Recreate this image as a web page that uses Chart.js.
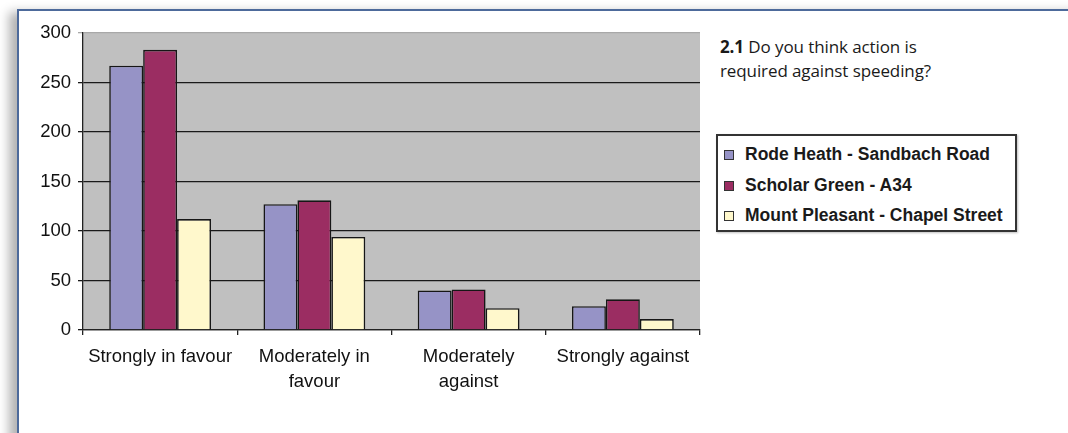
<!DOCTYPE html>
<html>
<head>
<meta charset="utf-8">
<script src="https://cdn.jsdelivr.net/npm/chart.js@4.4.1/dist/chart.umd.min.js"></script>
<style>
  html, body { margin: 0; padding: 0; background: #fff; }
  body { width: 1068px; height: 433px; position: relative; overflow: hidden; }
  #frame {
    position: absolute; left: 17px; top: 9px; width: 1100px; height: 500px;
    border-top: 2px solid #4d6a9b; border-left: 2px solid #4d6a9b;
    box-shadow: -8px 3px 10px rgba(0,0,0,0.3);
    background: #fff;
  }
  #wrap { position: absolute; left: 0; top: 0; width: 710px; height: 400px; }
  #title {
    position: absolute; left: 720px; top: 35px;
    font-family: "Open Sans", sans-serif; font-size: 17px; line-height: 24px; color: #1a1a1a;
    letter-spacing: -0.1px;
  }
  #legend {
    position: absolute; left: 716px; top: 134px; width: 297px; height: 91px;
    border: 2px solid #333; box-shadow: 1px 1px 2px rgba(0,0,0,0.25);
    font-family: "Liberation Sans", Arial, sans-serif; font-size: 17.5px; font-weight: bold; color: #1a1a1a;
    padding-top: 3px; box-sizing: content-box;
  }
  .item { height: 30.5px; line-height: 30px; white-space: nowrap; position: relative; padding-left: 27px; }
  .sw { position: absolute; left: 6px; top: 11px; width: 8px; height: 8px; border: 1px solid #333; }
</style>
</head>
<body>
<div id="frame"></div>
<div id="wrap"><canvas id="speedChart"></canvas></div>
<div id="title"><b>2.1</b> Do you think action is<br>required against speeding?</div>
<div id="legend"></div>
<script>
const categories = [['Strongly in favour'], ['Moderately in', 'favour'], ['Moderately', 'against'], ['Strongly against']];
const seriesNames = ['Rode Heath - Sandbach Road', 'Scholar Green - A34', 'Mount Pleasant - Chapel Street'];
const rodeHeath = [267, 127, 40, 24];
const scholarGreen = [283, 131, 41, 31];
const mountPleasant = [112, 94, 22, 11];
const yTicks = [0, 50, 100, 150, 200, 250, 300];
const colours = ['#9693c6', '#9b2d62', '#fff8cc'];

const plotBg = {
  id: 'plotBg',
  beforeDraw(chart) {
    const { ctx, chartArea: a } = chart;
    ctx.save();
    ctx.fillStyle = '#c0c0c0';
    ctx.fillRect(a.left, a.top, a.right - a.left, a.bottom - a.top);
    ctx.restore();
  },
};

const font = { family: '"Liberation Sans", Arial, sans-serif', size: 18.5, lineHeight: 1.36 };

const ctx = document.getElementById('speedChart').getContext('2d');
const speedChart = new Chart(ctx, {
  type: 'bar',
  data: {
    labels: categories,
    datasets: [rodeHeath, scholarGreen, mountPleasant].map((d, i) => ({
      label: seriesNames[i],
      data: d,
      backgroundColor: colours[i],
      borderColor: '#161616',
      borderWidth: 1.6,
      categoryPercentage: 0.66,
      barPercentage: 1,
    })),
  },
  options: {
    responsive: true,
    maintainAspectRatio: false,
    animation: false,
    layout: { padding: { left: 0, top: 33, right: 10, bottom: 0 } },
    plugins: { legend: { display: false }, tooltip: { enabled: false } },
    scales: {
      x: {
        afterFit: (s) => { s.height = 70; },
        grid: { drawOnChartArea: false, drawTicks: true, tickLength: 5, offset: true, color: '#222', lineWidth: 1.3 },
        border: { color: '#222', width: 1.3 },
        ticks: { color: '#111', font: font, padding: 9, maxRotation: 0 },
      },
      y: {
        min: 0,
        max: 300,
        afterFit: (s) => { s.width = 83; },
        afterBuildTicks: (s) => { s.ticks = yTicks.map((v) => ({ value: v })); },
        grid: {
          tickLength: 5,
          lineWidth: 1.3,
          color: (c) => (c.tick && c.tick.value === 300 ? '#a8a8a8' : '#1a1a1a'),
        },
        border: { color: '#222', width: 1.3 },
        ticks: { color: '#111', font: font, padding: 7 },
      },
    },
  },
  plugins: [plotBg],
});

const legend = document.getElementById('legend');
seriesNames.forEach((name, i) => {
  legend.innerHTML += `<div class="item"><span class="sw" style="background:${colours[i]}"></span>${name}</div>`;
});
</script>
</body>
</html>
